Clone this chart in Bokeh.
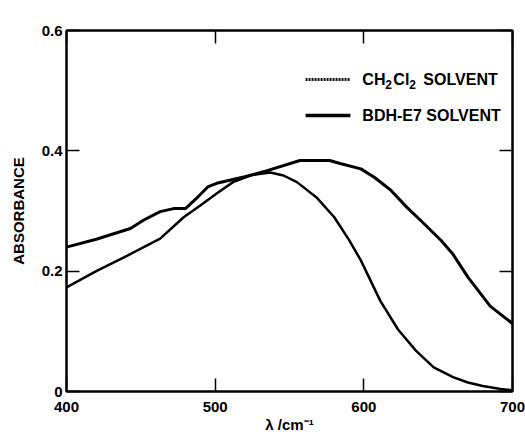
from bokeh.plotting import figure
from bokeh.models import Range1d, FixedTicker, LinearAxis, Label
from bokeh.embed import file_html
from bokeh.resources import INLINE
from bokeh.core.properties import value

# ---- data ----
wavelength_ch2cl2 = [400, 420, 441, 463, 479, 490, 501, 512, 525, 537, 546, 555, 568,
                     580, 590, 598, 611, 623, 635, 647, 660, 670, 680, 692, 700]
absorb_ch2cl2 = [0.173, 0.200, 0.226, 0.254, 0.290, 0.309, 0.329, 0.348, 0.360, 0.364,
                 0.359, 0.348, 0.323, 0.290, 0.252, 0.218, 0.151, 0.103, 0.068, 0.040,
                 0.024, 0.015, 0.009, 0.004, 0.002]

wavelength_bdh = [400, 420, 443, 452, 463, 472, 480, 487, 495, 501, 520, 535, 557,
                  577, 584, 598, 607, 618, 629, 640, 652, 660, 670, 685, 700]
absorb_bdh = [0.240, 0.253, 0.271, 0.285, 0.299, 0.304, 0.304, 0.320, 0.340, 0.346,
              0.357, 0.367, 0.384, 0.384, 0.379, 0.370, 0.356, 0.335, 0.306, 0.280,
              0.251, 0.228, 0.190, 0.142, 0.113]

x_ticks = [400, 500, 600, 700]
y_ticks = [0, 0.2, 0.4, 0.6]
y_tick_labels = {0: "0", 0.2: "0.2", 0.4: "0.4", 0.6: "0.6"}
y_axis_title = "ABSORBANCE"
x_axis_title = "λ /cm\u207b\u00b9"
figure_id = "9229-02-087"
legend_bdh = "BDH-E7 SOLVENT"

FONT = "Liberation Sans"

p = figure(width=525, height=437, output_backend="svg", toolbar_location=None,
           x_range=Range1d(400, 700), y_range=Range1d(0, 0.6),
           min_border_left=66, min_border_right=13, min_border_top=30,
           min_border_bottom=46, background_fill_color="white",
           border_fill_color="white")
p.xgrid.visible = False
p.ygrid.visible = False
p.outline_line_color = "black"
p.outline_line_width = 2

for ax, ticks in ((p.xaxis[0], x_ticks), (p.yaxis[0], y_ticks)):
    ax.ticker = FixedTicker(ticks=ticks)
    ax.major_tick_in = 13
    ax.major_tick_out = 0
    ax.minor_tick_in = 0
    ax.minor_tick_out = 0
    ax.axis_line_width = 2
    ax.major_tick_line_width = 1.5
    ax.major_label_text_font = FONT
    ax.major_label_text_font_style = "bold"
    ax.major_label_text_font_size = "15px"
    ax.major_label_text_color = "black"
    ax.axis_label_text_font = FONT
    ax.axis_label_text_font_style = "bold"
    ax.axis_label_text_font_size = "15px"
    ax.axis_label_text_color = "black"

p.xaxis[0].major_label_standoff = 10
p.xaxis[0].axis_label = x_axis_title
p.xaxis[0].axis_label_standoff = 1
p.yaxis[0].major_label_standoff = 4
p.yaxis[0].major_label_overrides = y_tick_labels
p.yaxis[0].axis_label = y_axis_title
p.yaxis[0].axis_label_standoff = 12

for loc, ticks in (("right", y_ticks), ("above", x_ticks)):
    ax = LinearAxis(ticker=FixedTicker(ticks=ticks),
                    major_label_overrides={t: "" for t in ticks},
                    major_label_text_font_size="1px",
                    major_label_standoff=0, major_tick_in=13, major_tick_out=0,
                    minor_tick_in=0, minor_tick_out=0, axis_line_width=2,
                    major_tick_line_width=1.5)
    p.add_layout(ax, loc)

# curves
p.line(wavelength_ch2cl2, absorb_ch2cl2, line_color="black", line_width=2.5)
p.line(wavelength_bdh, absorb_bdh, line_color="black", line_width=3)

# legend (drawn by hand to allow subscripts)
leg_x0, leg_x1, leg_tx = 560.8, 591.0, 599.0
row1, row2 = 0.5185, 0.4587
p.line([leg_x0, leg_x1], [row1, row1], line_color="#111111", line_width=3, line_dash="2 1")
p.line([leg_x0, leg_x1], [row2, row2], line_color="black", line_width=3.5)

pieces = [("CH", 0, 0, "16px"), ("2", 23, 5, "12px"), ("Cl", 31, 0, "16px"),
          ("2", 47, 5, "12px"), ("SOLVENT", 61, 0, "16px")]
for txt, dx, dy, fs in pieces:
    p.text(x=[leg_tx], y=[row1], text=[txt], x_offset=dx, y_offset=dy,
           text_font=value(FONT), text_font_style="bold", text_font_size=fs,
           text_baseline="middle", text_align="left", text_color="black")
p.text(x=[leg_tx], y=[row2], text=[legend_bdh], text_font=value(FONT),
       text_font_style="bold", text_font_size="16px", text_baseline="middle",
       text_align="left", text_color="black")

p.add_layout(Label(x=700, y=0.6, text=figure_id, text_align="right",
                   text_baseline="middle", y_offset=11, text_font=FONT,
                   text_font_style="bold", text_font_size="9px", text_color="black"))

open("out.html", "w").write(file_html(p, INLINE))
